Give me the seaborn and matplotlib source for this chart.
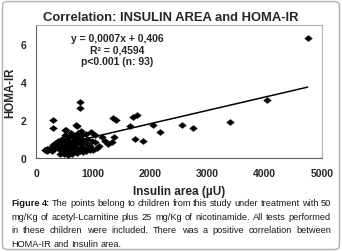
import matplotlib
matplotlib.use("Agg")
import matplotlib.pyplot as plt
import seaborn as sns
import pandas as pd
import numpy as np
from matplotlib.patches import FancyBboxPatch
from matplotlib.path import Path

# ---- data ----
insulin_area = [
    150, 200, 250, 280, 300, 320, 350, 370, 380, 400, 420, 440, 450, 470, 480,
    490, 500, 510, 520, 530, 540, 550, 560, 570, 580, 590, 600, 610, 620, 630,
    640, 650, 660, 670, 680, 690, 700, 710, 720, 730, 740, 750, 760, 770, 780,
    790, 800, 810, 820, 830, 850, 870, 890, 900, 920, 950, 980, 1000, 1030, 1060,
    4750, 4030, 3390, 2740, 2545, 2160, 2050, 1870, 1730, 1650, 1760, 1700, 1340,
    1400, 1360, 1320, 1260, 1150, 1100, 770, 770, 300, 300, 500, 700, 960, 950,
    880, 1200, 1040, 330, 200, 420,
]
homa_ir = [
    0.42, 0.45, 0.50, 0.38, 0.70, 0.75, 0.80, 0.60, 0.90, 0.45, 0.85, 0.65, 1.00, 0.30, 0.55,
    0.20, 0.80, 1.20, 1.45, 0.40, 0.65, 0.95, 0.15, 1.10, 0.50, 0.30, 0.75, 1.30, 0.60, 0.20,
    0.90, 0.45, 1.15, 0.35, 0.70, 1.00, 0.55, 1.70, 0.25, 0.85, 1.30, 0.50, 1.05, 0.35, 1.40,
    0.75, 0.60, 1.20, 0.30, 0.90, 0.50, 1.25, 0.75, 1.00, 0.45, 0.65, 0.90, 0.40, 1.20, 0.55,
    6.30, 3.05, 1.90, 1.60, 1.72, 1.37, 1.73, 0.92, 0.98, 1.68, 2.27, 2.17, 2.08,
    1.98, 1.08, 0.85, 0.75, 1.10, 0.65, 2.95, 2.62, 1.98, 1.60, 1.50, 1.72, 1.35, 0.40,
    0.35, 0.90, 0.85, 0.55, 0.35, 0.20,
]
slope = 0.0007
intercept = 0.406
x_ticks = [0, 1000, 2000, 3000, 4000, 5000]
y_ticks = [0, 2, 4, 6]

title = "Correlation: INSULIN AREA and HOMA-IR"
eq_lines = ["y = 0,0007x + 0,406", "R² = 0,4594", "p<0.001 (n: 93)"]
x_label = "Insulin area (µU)"
y_label = "HOMA-IR"
caption_lines = [
    "The points belong to children from this study under treatment with 50",
    "mg/Kg of acetyl-Lcarnitine plus 25 mg/Kg of nicotinamide. All tests performed",
    "in these children were included. There was a positive correlation between",
    "HOMA-IR and Insulin area.",
]
caption_prefix = "Figure 4:"

# ---- figure ----
sns.set_style("white")
plt.rcParams["font.family"] = ["Liberation Sans", "DejaVu Sans"]

W, H = 342, 253
fig = plt.figure(figsize=(W / 100, H / 100), dpi=100)

border = FancyBboxPatch((2.5 / W, 2.5 / H), (W - 5) / W, (H - 5) / H,
                        boxstyle="round,pad=0,rounding_size=0.015",
                        transform=fig.transFigure, fill=False,
                        edgecolor="#b0b0b0", linewidth=1.0)
fig.patches.append(border)

ax = fig.add_axes([36 / W, 1 - 159 / H, (322 - 36) / W, (159 - 26) / H])
df = pd.DataFrame({"x": insulin_area, "y": homa_ir})
wide_diamond = Path([(-1, 0), (0, 0.8), (1, 0), (0, -0.8), (-1, 0)],
                    [Path.MOVETO, Path.LINETO, Path.LINETO, Path.LINETO, Path.CLOSEPOLY])
sns.scatterplot(data=df, x="x", y="y", ax=ax, marker=wide_diamond, s=32,
                color="black", edgecolor="black", linewidth=0.2, zorder=3)

xs = np.array([min(insulin_area), max(insulin_area)])
ax.plot(xs, slope * xs + intercept, color="black", linewidth=1.1, zorder=4)

ax.set_xlim(0, 5000)
ax.set_ylim(0, 7)
ax.set_xticks(x_ticks)
ax.set_yticks(y_ticks)
ax.set_xticklabels([str(t) for t in x_ticks], fontsize=7.5, fontweight="bold")
ax.set_yticklabels([str(t) for t in y_ticks], fontsize=7.5, fontweight="bold")
ax.tick_params(axis="both", direction="out", length=3, width=0.6, color="#808080", pad=4)
ax.set_xlabel(x_label, fontsize=8.5, fontweight="bold", labelpad=5)
ax.set_ylabel(y_label, fontsize=8.3, fontweight="bold", labelpad=3)

for side in ["left", "bottom"]:
    ax.spines[side].set_color("#606060")
    ax.spines[side].set_linewidth(0.8)
for side in ["top", "right"]:
    ax.spines[side].set_color("#b0b0b0")
    ax.spines[side].set_linewidth(0.8)

eq_y = [39, 51, 62]
for line, py in zip(eq_lines, eq_y):
    fig.text(117 / W, 1 - py / H, line, ha="center", va="center",
             fontsize=7.5, fontweight="bold")

fig.text(171 / W, 1 - 18 / H, title, ha="center", va="center",
         fontsize=9.4, fontweight="bold")

# justified caption
fig.canvas.draw()
renderer = fig.canvas.get_renderer()
left_px, right_px = 11, 331
line_ys = [204, 218, 231, 245]
cap_size = 6.7
cap_color = "#1a1a1a"


def measure(s, weight="normal"):
    t = fig.text(0, 0, s, fontsize=cap_size, fontweight=weight)
    w = t.get_window_extent(renderer).width
    t.remove()
    return w


for i, (line, py) in enumerate(zip(caption_lines, line_ys)):
    words = line.split(" ")
    items = []
    if i == 0:
        items.append((caption_prefix.split(" ")[0], "bold"))
        items.append((caption_prefix.split(" ")[1], "bold"))
    items += [(w, "normal") for w in words]
    widths = [measure(w, wt) for w, wt in items]
    total = sum(widths)
    space = measure("a a") - measure("aa")
    if i < len(caption_lines) - 1:
        gap = (right_px - left_px - total) / (len(items) - 1)
    else:
        gap = space
    x = left_px
    for (w, wt), wd in zip(items, widths):
        fig.text(x / W, 1 - py / H, w, fontsize=cap_size, fontweight=wt,
                 ha="left", va="center", color=cap_color)
        x += wd + gap

fig.savefig("out.png", dpi=100)
